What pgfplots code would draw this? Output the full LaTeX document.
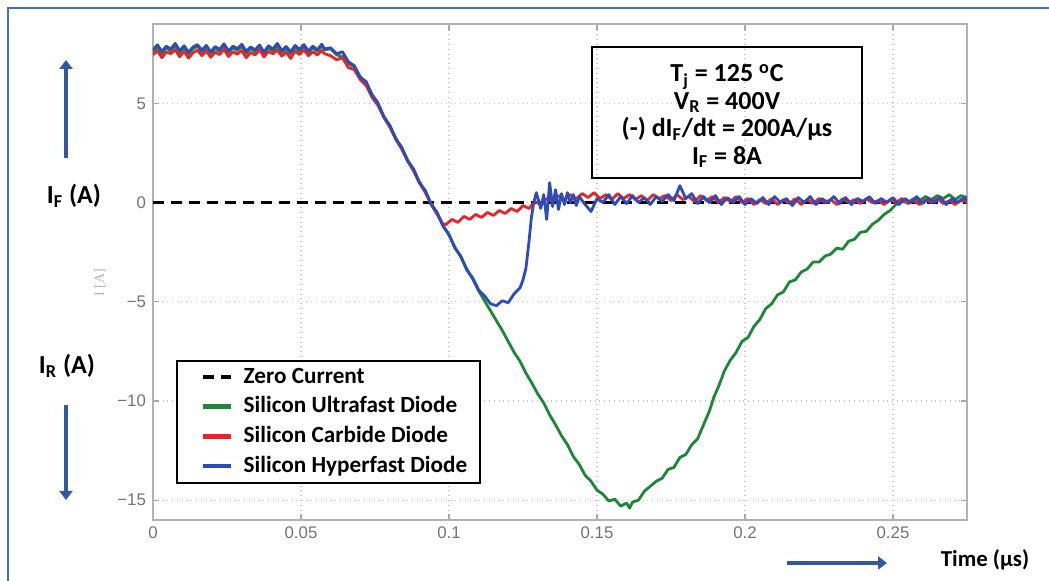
\documentclass[border=0pt]{standalone}
\usepackage{fontspec}
\usepackage{pgfplots}
\pgfplotsset{compat=1.18}
\usetikzlibrary{arrows.meta}
\setmainfont{Carlito}
\newfontfamily\tickfont{Liberation Sans}
\newfontfamily\labfont{Liberation Serif}
\definecolor{sgreen}{RGB}{28,135,55}
\definecolor{sred}{RGB}{235,35,40}
\definecolor{sblue}{RGB}{45,75,185}
\definecolor{arrowblue}{RGB}{50,88,160}
\definecolor{framebl}{RGB}{68,110,190}
\begin{document}
\begin{tikzpicture}
\useasboundingbox (-76.5pt,-30.5pt) rectangle (448pt,260pt);
% outer frame (cropped at right and bottom)
\draw[framebl, line width=1pt] (-72.5pt,-31pt) -- (-72.5pt,256pt) -- (449pt,256pt);
\begin{axis}[
    width=407pt, height=248pt, scale only axis,
    xmin=0, xmax=0.275, ymin=-16, ymax=9,
    xtick={0,0.05,0.1,0.15,0.2,0.25},
    xticklabels={0,0.05,0.1,0.15,0.2,0.25},
    ytick={-15,-10,-5,0,5},
    yticklabels={−15,−10,−5,0,5},
    scaled x ticks=false,
    tick align=inside, major tick length=3pt,
    tick style={gray!70, line width=0.6pt},
    axis line style={gray!60, line width=0.9pt},
    grid=major,
    major grid style={gray!45, dotted, line width=0.6pt},
    ticklabel style={font=\tickfont\fontsize{8.4}{10}\selectfont, text=black!55},
    legend style={at={(0.0283,0.3226)}, anchor=north west, draw=black, line width=0.9pt,
        font=\bfseries\fontsize{11.6}{13}\selectfont, row sep=1.3pt, column sep=3pt,
        inner xsep=4.5pt, inner ysep=1.5pt},
    legend cell align=left,
    legend image code/.code={\path (0pt,0pt); \draw[#1, line width=2.3pt] (8pt,0pt) -- (22pt,0pt);},
    every axis plot/.append style={line join=round},
]
\addplot[black, line width=1.5pt, dash pattern=on 5.5pt off 3.5pt] coordinates {(0,0) (0.275,0)};
\addlegendentry{Zero Current}

\addplot[sgreen, line width=1.4pt] coordinates {
(0,7.60) (0.0015,7.85) (0.003,7.50) (0.0045,7.80) (0.006,7.65) (0.0075,7.90) (0.009,7.55) (0.0105,7.82)
(0.012,7.48) (0.0135,7.75) (0.015,7.88) (0.0165,7.58) (0.018,7.84) (0.0195,7.52) (0.021,7.78) (0.0225,7.62)
(0.024,7.92) (0.0255,7.56) (0.027,7.80) (0.0285,7.66) (0.03,7.88) (0.0315,7.52) (0.033,7.76) (0.0345,7.60)
(0.036,7.86) (0.0375,7.50) (0.039,7.82) (0.0405,7.64) (0.042,7.90) (0.0435,7.56) (0.045,7.78) (0.0465,7.50)
(0.048,7.84) (0.0495,7.62) (0.051,7.88) (0.0525,7.56) (0.054,7.80) (0.0555,7.62) (0.057,7.90)
(0.058,7.70) (0.060,7.75) (0.062,7.45) (0.064,7.35) (0.066,7.00) (0.068,6.85) (0.070,6.35) (0.072,6.05)
(0.074,5.45) (0.076,5.00) (0.078,4.35) (0.080,3.85) (0.082,3.25) (0.084,2.75) (0.086,2.15) (0.088,1.65)
(0.090,1.05) (0.092,0.55) (0.094,-0.05) (0.096,-0.55) (0.098,-1.15) (0.100,-1.65) (0.102,-2.25) (0.104,-2.75)
(0.106,-3.35) (0.108,-3.85) (0.110,-4.45) (0.112,-4.95) (0.114,-5.45) (0.116,-5.95) (0.118,-6.45) (0.120,-7.0)
(0.122,-7.55) (0.124,-8.0) (0.126,-8.6) (0.128,-9.1) (0.130,-9.65) (0.132,-10.1) (0.134,-10.7) (0.136,-11.2)
(0.138,-11.75) (0.140,-12.2) (0.142,-12.8) (0.144,-13.2) (0.146,-13.75) (0.148,-14.05) (0.150,-14.5) (0.152,-14.7)
(0.154,-15.05) (0.156,-14.95) (0.158,-15.3) (0.160,-15.15) (0.161,-15.4) (0.162,-15.1) (0.164,-15.0) (0.166,-14.55)
(0.168,-14.3) (0.170,-14.05) (0.172,-13.9) (0.174,-13.45) (0.176,-13.35) (0.178,-12.85) (0.180,-12.7) (0.182,-12.2)
(0.184,-11.9) (0.186,-11.2) (0.188,-10.5) (0.1895,-9.8) (0.191,-9.3) (0.193,-8.5) (0.195,-7.95) (0.197,-7.55)
(0.199,-7.0) (0.201,-6.8) (0.203,-6.25) (0.205,-5.9) (0.207,-5.35) (0.209,-5.1) (0.211,-4.65) (0.213,-4.5)
(0.215,-4.0) (0.217,-3.9) (0.219,-3.5) (0.221,-3.35) (0.223,-3.0) (0.225,-3.0) (0.227,-2.7) (0.229,-2.6)
(0.231,-2.3) (0.233,-2.35) (0.235,-1.95) (0.237,-1.85) (0.239,-1.5) (0.241,-1.45) (0.243,-1.1) (0.245,-0.9)
(0.247,-0.6) (0.249,-0.4) (0.251,-0.1) (0.253,0.05) (0.255,0.0) (0.257,0.2) (0.259,0.1) (0.261,0.3)
(0.263,0.15) (0.265,0.35) (0.267,0.2) (0.269,0.4) (0.271,0.15) (0.273,0.35) (0.275,0.25)
};
\addlegendentry{Silicon Ultrafast Diode}

\addplot[sred, line width=1.4pt] coordinates {
(0,7.45) (0.0015,7.65) (0.003,7.30) (0.0045,7.60) (0.006,7.50) (0.0075,7.70) (0.009,7.35) (0.0105,7.62)
(0.012,7.28) (0.0135,7.55) (0.015,7.68) (0.0165,7.40) (0.018,7.64) (0.0195,7.32) (0.021,7.58) (0.0225,7.46)
(0.024,7.72) (0.0255,7.36) (0.027,7.60) (0.0285,7.48) (0.03,7.66) (0.0315,7.30) (0.033,7.56) (0.0345,7.44)
(0.036,7.70) (0.0375,7.34) (0.039,7.62) (0.0405,7.50) (0.042,7.68) (0.0435,7.38) (0.045,7.58) (0.0465,7.26)
(0.048,7.64) (0.0495,7.46) (0.051,7.70) (0.0525,7.40) (0.054,7.60) (0.0555,7.44) (0.057,7.66)
(0.058,7.50) (0.060,7.40) (0.062,7.20) (0.064,7.30) (0.066,6.80) (0.068,6.70) (0.070,6.20) (0.072,5.90)
(0.074,5.30) (0.076,4.90) (0.078,4.30) (0.080,3.80) (0.082,3.20) (0.084,2.70) (0.086,2.10) (0.088,1.60)
(0.090,1.00) (0.092,0.50) (0.094,-0.10) (0.096,-0.60) (0.098,-1.10)
(0.099,-1.10) (0.101,-0.85) (0.103,-1.0) (0.105,-0.7) (0.107,-0.85) (0.109,-0.6) (0.111,-0.75) (0.113,-0.5)
(0.115,-0.65) (0.117,-0.4) (0.119,-0.55) (0.121,-0.3) (0.123,-0.45) (0.125,-0.15) (0.127,-0.3) (0.129,0.05)
(0.131,-0.1) (0.133,0.2) (0.135,0.05) (0.137,0.35) (0.139,0.15) (0.141,0.4) (0.143,0.2) (0.145,0.45)
(0.147,0.25) (0.149,0.5) (0.151,0.2) (0.153,0.4) (0.155,0.15) (0.157,0.45) (0.159,0.2) (0.161,0.4)
(0.163,0.15) (0.165,0.35) (0.167,0.1) (0.169,0.4) (0.171,0.2) (0.173,0.35) (0.175,0.1) (0.177,0.4)
(0.179,0.15) (0.181,0.3) (0.183,0.05) (0.185,0.35) (0.187,0.1) (0.189,0.3) (0.191,0.0) (0.193,0.25)
(0.195,0.05) (0.197,0.3) (0.199,0.0) (0.201,0.2) (0.203,-0.1) (0.205,0.15) (0.207,-0.05) (0.209,0.2)
(0.211,-0.1) (0.213,0.15) (0.215,-0.05) (0.217,0.2) (0.219,-0.1) (0.221,0.15) (0.223,-0.05) (0.225,0.2)
(0.227,0.0) (0.229,0.15) (0.231,-0.1) (0.233,0.2) (0.235,0.0) (0.237,0.15) (0.239,-0.05) (0.241,0.2)
(0.243,0.0) (0.245,0.1) (0.247,-0.1) (0.249,0.15) (0.251,0.0) (0.253,0.2) (0.255,-0.05) (0.257,0.1)
(0.259,-0.1) (0.261,0.15) (0.263,0.0) (0.265,0.2) (0.267,-0.05) (0.269,0.1) (0.271,-0.1) (0.273,0.15) (0.275,0.0)
};
\addlegendentry{Silicon Carbide Diode}

\addplot[sblue, line width=1.4pt] coordinates {
(0,7.70) (0.0015,7.95) (0.003,7.62) (0.0045,7.88) (0.006,7.74) (0.0075,8.02) (0.009,7.66) (0.0105,7.90)
(0.012,7.58) (0.0135,7.84) (0.015,7.96) (0.0165,7.68) (0.018,7.92) (0.0195,7.60) (0.021,7.86) (0.0225,7.72)
(0.024,8.00) (0.0255,7.64) (0.027,7.88) (0.0285,7.76) (0.03,7.98) (0.0315,7.62) (0.033,7.84) (0.0345,7.70)
(0.036,7.94) (0.0375,7.58) (0.039,7.90) (0.0405,7.74) (0.042,8.02) (0.0435,7.66) (0.045,7.86) (0.0465,7.60)
(0.048,7.92) (0.0495,7.72) (0.051,7.96) (0.0525,7.64) (0.054,7.88) (0.0555,7.70) (0.057,7.98)
(0.058,7.74) (0.060,7.80) (0.062,7.50) (0.064,7.60) (0.066,7.10) (0.068,6.90) (0.070,6.30) (0.072,6.10)
(0.074,5.40) (0.0757,5.10) (0.078,4.30) (0.080,3.90) (0.082,3.20) (0.084,2.80) (0.086,2.10) (0.088,1.70)
(0.090,1.00) (0.092,0.60) (0.094,-0.10) (0.096,-0.50) (0.098,-1.20) (0.100,-1.60) (0.102,-2.30) (0.104,-2.70)
(0.106,-3.40) (0.108,-3.80) (0.110,-4.40) (0.112,-4.70) (0.114,-5.10) (0.116,-5.20) (0.118,-4.95) (0.120,-5.05)
(0.122,-4.60) (0.124,-4.30) (0.125,-3.90) (0.126,-3.30) (0.127,-2.00) (0.1278,-0.80) (0.1285,-0.10)
(0.1295,0.50) (0.131,-0.30) (0.132,0.40) (0.133,-0.85) (0.134,1.00) (0.135,-0.20) (0.136,0.65) (0.137,-0.35)
(0.138,0.45) (0.139,-0.10) (0.140,0.50) (0.141,0.00) (0.142,0.40) (0.143,-0.15)
(0.144,0.3) (0.146,-0.1) (0.148,-0.45) (0.150,0.2) (0.152,0.0) (0.154,0.4) (0.156,-0.1) (0.158,0.3)
(0.160,-0.05) (0.162,0.35) (0.164,0.0) (0.166,0.25) (0.168,-0.1) (0.170,0.3) (0.172,0.05) (0.174,0.4)
(0.176,0.1) (0.178,0.85) (0.180,0.2) (0.182,0.45) (0.184,-0.05) (0.186,0.3) (0.188,0.0) (0.190,0.35)
(0.192,-0.1) (0.194,0.25) (0.196,0.0) (0.198,0.3) (0.200,-0.1) (0.202,0.2) (0.204,-0.05) (0.206,0.25)
(0.208,-0.1) (0.210,0.3) (0.212,0.0) (0.214,0.2) (0.216,-0.15) (0.218,0.25) (0.220,0.0) (0.222,0.3)
(0.224,-0.1) (0.226,0.2) (0.228,0.0) (0.230,0.3) (0.232,-0.05) (0.234,0.25) (0.236,-0.1) (0.238,0.2)
(0.240,0.05) (0.242,0.3) (0.244,-0.05) (0.246,0.2) (0.248,0.0) (0.250,0.25) (0.252,-0.1) (0.254,0.2)
(0.256,0.0) (0.258,0.3) (0.260,-0.05) (0.262,0.2) (0.264,0.0) (0.266,0.25) (0.268,-0.1) (0.270,0.2)
(0.272,0.0) (0.274,0.25) (0.275,0.1)
};
\addlegendentry{Silicon Hyperfast Diode}
\end{axis}
% y label of the original plot
\node[rotate=90, text=black!30, font=\labfont\fontsize{7}{8}\selectfont] at (-26.5pt,118.5pt) {I [A]};
% condition box
\draw[line width=1pt] (219.5pt,171pt) rectangle (354.5pt,236.5pt);
\node[align=center, font=\bfseries\fontsize{13}{13.7}\selectfont] at (287pt,202pt)
  {T\textsubscript{j} = 125 \textsuperscript{o}C\\ V\textsubscript{R} = 400V\\ (-) dI\textsubscript{F}/dt = 200A/µs\\ I\textsubscript{F} = 8A};
% side labels and arrows
\node[font=\bfseries\fontsize{13}{14}\selectfont] at (-39.5pt,162pt) {I\textsubscript{F} (A)};
\node[font=\bfseries\fontsize{13}{14}\selectfont] at (-43pt,77pt) {I\textsubscript{R} (A)};
\node[font=\bfseries\fontsize{11.4}{13}\selectfont] at (416pt,-20pt) {Time (µs)};
\draw[arrowblue, line width=2.4pt, -{Triangle[width=6.5pt,length=4.5pt]}] (-43.5pt,181pt) -- (-43.5pt,230pt);
\draw[arrowblue, line width=2.4pt, -{Triangle[width=6.5pt,length=4.5pt]}] (-43.5pt,57.5pt) -- (-43.5pt,10pt);
\draw[arrowblue, line width=2.4pt, -{Triangle[width=6.5pt,length=4.5pt]}] (317pt,-21.5pt) -- (367pt,-21.5pt);
\end{tikzpicture}
\end{document}
